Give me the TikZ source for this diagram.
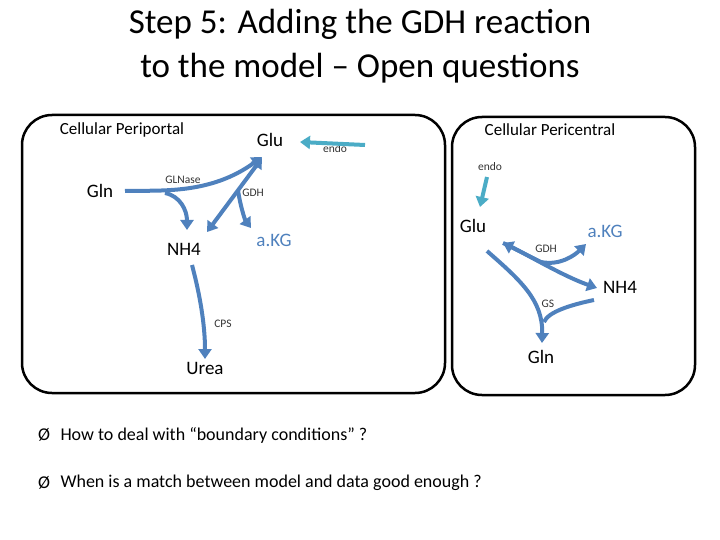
\documentclass[tikz,border=0pt]{standalone}
\usepackage{fontspec}
\setmainfont{Carlito}
\usetikzlibrary{arrows.meta}
\definecolor{flow}{RGB}{79,129,189}
\definecolor{endoc}{RGB}{75,172,198}
\tikzset{
  flw/.style={draw=flow,line width=4pt,-{Triangle[length=10pt,width=13pt]}},
  flwb/.style={draw=flow,line width=4pt,{Triangle[length=10pt,width=13pt]}-{Triangle[length=10pt,width=13pt]}},
  endoarr/.style={draw=endoc,line width=4pt,-{Triangle[length=10pt,width=13pt]}},
  met/.style={font=\fontsize{19}{22}\selectfont,inner sep=1pt},
  enz/.style={font=\fontsize{11.5}{13}\selectfont,text=black!80,inner sep=1pt},
  cell/.style={draw=black,line width=2.5pt,rounded corners=30pt},
  ttl/.style={font=\fontsize{17}{20}\selectfont,inner sep=1pt}
}
\begin{document}
\begin{tikzpicture}[x=1pt,y=-1pt]
\useasboundingbox (0,0) rectangle (720,540);
\node[font=\fontsize{35}{44}\selectfont,align=center] (title) at (360,46) {Step 5: Adding the GDH reaction\\to the model -- Open questions};
\draw[cell] (22,115) rectangle (445,393);
\draw[cell] (452,117) rectangle (695,395);
% left
\node[ttl] (lt) at (122,130) {Cellular Periportal};
\node[met] (glu) at (270,140) {Glu};
\node[enz] (endo1) at (335,149) {endo};
\node[met] (gln) at (100,191) {Gln};
\node[enz] (glnase) at (183,180) {GLNase};
\node[enz] (gdh1) at (253,193) {GDH};
\node[met] (nh4) at (184,249) {NH4};
\node[met,text=flow] (akg1) at (274,240) {a.KG};
\node[enz] (cps) at (223,324) {CPS};
\node[met] (urea) at (205,368) {Urea};
\coordinate (e1s) at (365,145);
\draw[endoarr] (e1s) -- (300,142);
\coordinate (g1) at (125,191);
\coordinate (b1) at (165,193);
\draw[flw] (g1) .. controls (160,190) and (210,195) .. (262,157);
\draw[flw] (b1) .. controls (180,196) and (187,210) .. (187,230);
\draw[flwb] (262,158) -- (207,232);
\draw[flw] (238,190) .. controls (240,205) and (245,220) .. (251,228);
\draw[flw] (192,265) .. controls (200,295) and (205,325) .. (205,359);
% right
\node[ttl] (rt) at (550,130) {Cellular Pericentral};
\node[enz] (endo2) at (490,167) {endo};
\node[met] (glu2) at (473,226) {Glu};
\node[met,text=flow] (akg2) at (605,231) {a.KG};
\node[enz] (gdh2) at (546,249) {GDH};
\node[met] (nh42) at (620,287) {NH4};
\node[enz] (gs) at (548,304) {GS};
\node[met] (gln2) at (541,357) {Gln};
\coordinate (e2s) at (487,177);
\draw[endoarr] (e2s) -- (480,207);
\coordinate (j2) at (541,262);
\draw[flw] (503,243) .. controls (520,250) and (560,275) .. (597,288);
\draw[flw] (j2) .. controls (560,266) and (575,255) .. (586,244);
\draw[draw=flow,line width=4pt,{Triangle[length=10pt,width=13pt]}-] (503,243) -- (j2);
\draw[flw] (487,251) .. controls (520,280) and (543,300) .. (542,343);
\draw[draw=flow,line width=4pt] (594,300) .. controls (570,305) and (548,312) .. (544,322);
% bullets
\node[anchor=west,font=\fontsize{18}{21}\selectfont] (q1) at (57,435) {How to deal with “boundary conditions” ?};
\node[anchor=west,font=\fontsize{18}{21}\selectfont] (q2) at (57,483) {When is a match between model and data good enough ?};
\node[font=\fontsize{18}{21}\selectfont] (b1m) at (44,435) {Ø};
\node[font=\fontsize{18}{21}\selectfont] (b2m) at (44,483) {Ø};
\end{tikzpicture}
\end{document}
